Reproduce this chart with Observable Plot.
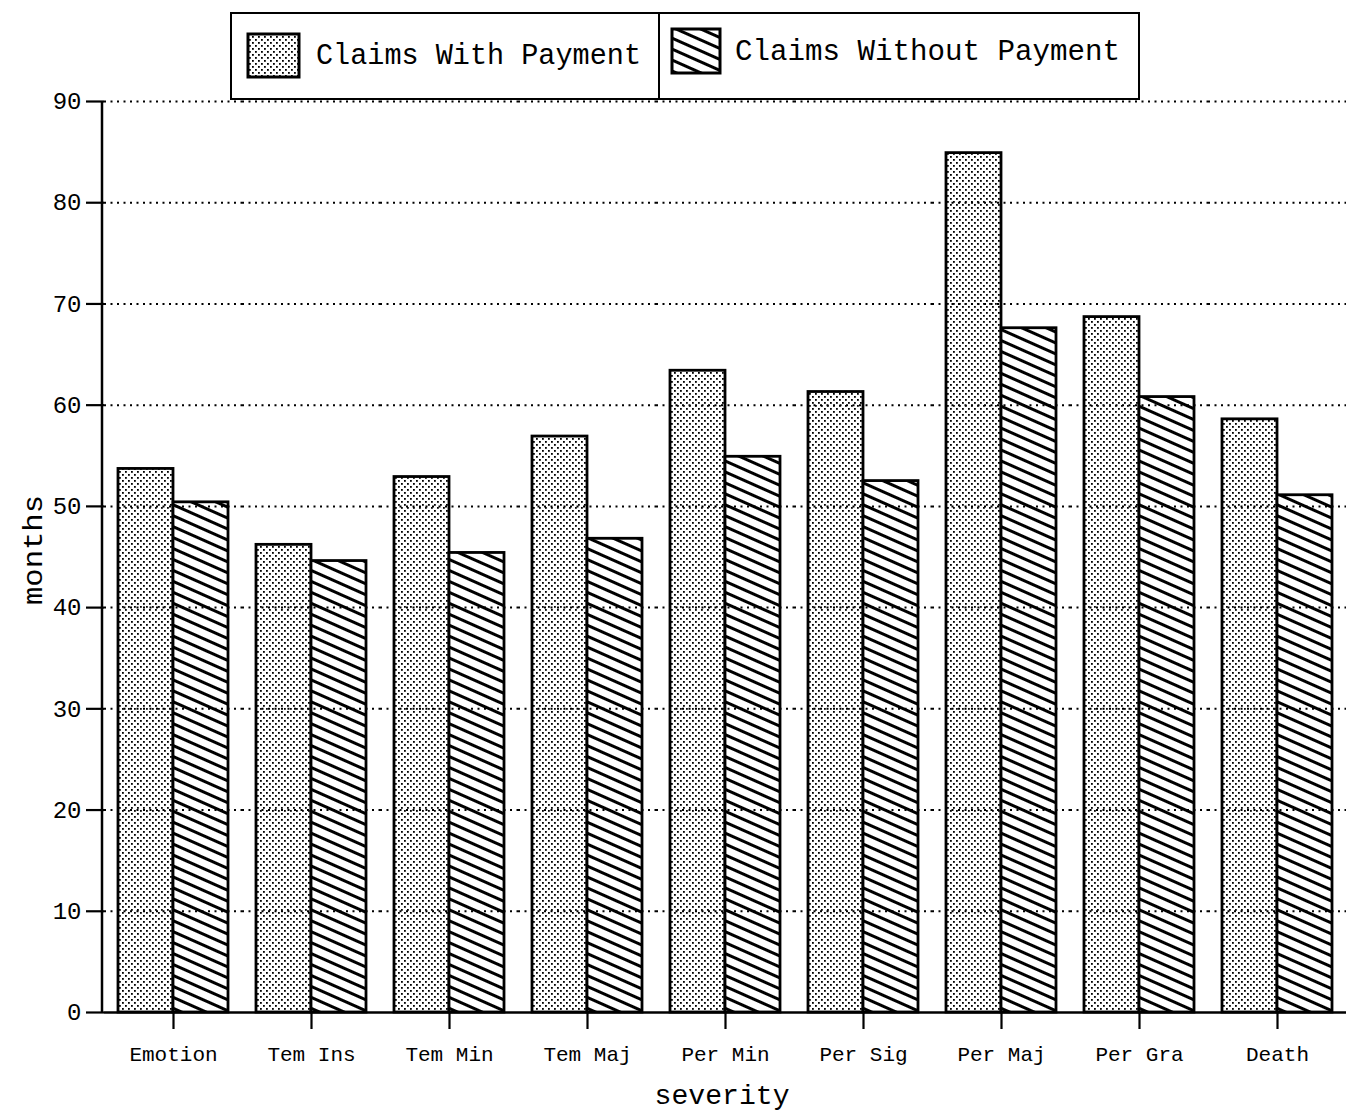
<!DOCTYPE html>
<html><head><meta charset="utf-8">
<script src="https://cdn.jsdelivr.net/npm/d3@7"></script>
<script src="https://cdn.jsdelivr.net/npm/@observablehq/plot@0.6"></script>
<style>
body{margin:0;background:#fff;}
#wrap{position:relative;width:1351px;height:1115px;overflow:hidden;}
#wrap svg{display:block;}
#overlay{position:absolute;left:0;top:0;pointer-events:none;}
g[aria-label="y-axis tick label"]{font-size:24px;}
g[aria-label="y-axis tick"], g[aria-label="fx-axis tick"]{stroke-width:2.2px;}
</style></head><body><div id="wrap"></div>
<script>
const categories = ["Emotion","Tem Ins","Tem Min","Tem Maj","Per Min","Per Sig","Per Maj","Per Gra","Death"];
const seriesNames = ["Claims With Payment","Claims Without Payment"];
const withPayment = [53.7,46.2,52.9,56.9,63.4,61.3,84.9,68.7,58.6];
const withoutPayment = [50.4,44.6,45.4,46.8,54.9,52.5,67.6,60.8,51.1];
const yTicks = [0,10,20,30,40,50,60,70,80,90];
const xLabel = "severity";
const yLabel = "months";

const data = categories.flatMap((c,i)=>[
  {category:c, series:seriesNames[0], value:withPayment[i]},
  {category:c, series:seriesNames[1], value:withoutPayment[i]}
]);

const M = {top:101, bottom:103, left:102, right:4};
const chart = Plot.plot({
  width:1351, height:1115,
  marginTop:M.top, marginBottom:M.bottom, marginLeft:M.left, marginRight:M.right,
  style:{fontFamily:"'Liberation Mono', monospace", fontSize:"21px", color:"#000", background:"#fff", overflow:"visible"},
  fx:{domain:categories, padding:0, axis:"bottom", tickSize:17, tickPadding:17, label:null},
  x:{domain:seriesNames, paddingInner:0, paddingOuter:0.236, axis:null},
  y:{domain:[0,90], ticks:yTicks, tickSize:18, tickPadding:5, label:null, tickFormat:d=>String(d)},
  color:{domain:seriesNames, range:["url(#stipple)","url(#hatch)"]},
  marks:[
    Plot.barY(data,{fx:"category", x:"series", y:"value", fill:"series", stroke:"#000", strokeWidth:2.8}),
    Plot.ruleY(yTicks.filter(d=>d>0),{stroke:"#000", strokeWidth:2, strokeDasharray:"2,4.5"}),
    Plot.ruleY([0],{stroke:"#000", strokeWidth:2.5})
  ]
});

const svg = d3.select(chart);
const defs = svg.insert("defs",":first-child");
function addPatterns(defs, sfx){
  const st = defs.append("pattern").attr("id","stipple"+sfx).attr("patternUnits","userSpaceOnUse")
    .attr("width",6).attr("height",6);
  st.append("rect").attr("width",6).attr("height",6).attr("fill","#fff");
  st.append("rect").attr("x",0).attr("y",0).attr("width",1.8).attr("height",1.8).attr("fill","#000");
  st.append("rect").attr("x",3).attr("y",3).attr("width",1.8).attr("height",1.8).attr("fill","#000");
  const h = defs.append("pattern").attr("id","hatch"+sfx).attr("patternUnits","userSpaceOnUse")
    .attr("width",10).attr("height",10).attr("patternTransform","rotate(24)");
  h.append("rect").attr("width",10).attr("height",10).attr("fill","#fff");
  h.append("rect").attr("x",0).attr("y",0).attr("width",10).attr("height",3).attr("fill","#000");
}
addPatterns(defs,"");

// y-axis domain line along the left of the frame
const ys = chart.scale("y");
svg.append("line").attr("x1",M.left).attr("x2",M.left)
  .attr("y1",ys.apply(90)).attr("y2",ys.apply(0))
  .attr("stroke","#000").attr("stroke-width",2.5);

const wrap = document.getElementById("wrap");
wrap.appendChild(chart);

// overlay: legend and axis titles
const ov = d3.select(wrap).append("svg").attr("id","overlay").attr("width",1351).attr("height",1115)
  .style("font-family","'Liberation Mono', monospace");
addPatterns(ov.append("defs"),"L");
const lg = ov.append("g");
lg.append("rect").attr("x",231).attr("y",13).attr("width",908).attr("height",86)
  .attr("fill","#fff").attr("stroke","#000").attr("stroke-width",2);
lg.append("line").attr("x1",659).attr("x2",659).attr("y1",13).attr("y2",99).attr("stroke","#000").attr("stroke-width",2);
const items = [
  {name:seriesNames[0], fill:"url(#stippleL)", sx:248, sy:34, sw:51, sh:43, tx:316, ty:64, tw:325},
  {name:seriesNames[1], fill:"url(#hatchL)", sx:672, sy:29, sw:48, sh:44, tx:735, ty:60, tw:385}
];
for (const it of items){
  lg.append("rect").attr("x",it.sx).attr("y",it.sy).attr("width",it.sw).attr("height",it.sh)
    .attr("fill",it.fill).attr("stroke","#000").attr("stroke-width",3);
  lg.append("text").attr("x",it.tx).attr("y",it.ty).attr("font-size",29)
    .attr("textLength",it.tw).attr("lengthAdjust","spacingAndGlyphs").text(it.name);
}
ov.append("text").attr("x",722).attr("y",1104).attr("text-anchor","middle").attr("font-size",28)
  .attr("textLength",135).attr("lengthAdjust","spacingAndGlyphs").text(xLabel);
ov.append("text").attr("transform","translate(42,550) rotate(-90)").attr("text-anchor","middle").attr("font-size",28)
  .attr("textLength",110).attr("lengthAdjust","spacingAndGlyphs").text(yLabel);
</script></body></html>
